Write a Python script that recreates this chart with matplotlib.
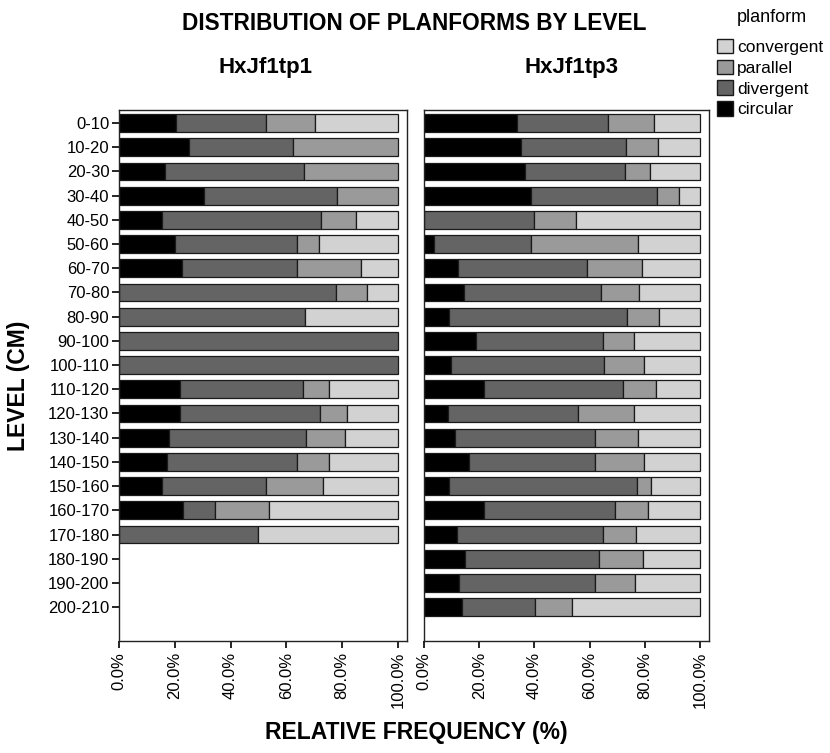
import matplotlib
matplotlib.use('Agg')
import matplotlib.pyplot as plt
from matplotlib.patches import Patch
import numpy as np

plt.rcParams['font.family'] = ['Liberation Sans', 'DejaVu Sans']

levels = ['0-10', '10-20', '20-30', '30-40', '40-50', '50-60', '60-70', '70-80',
          '80-90', '90-100', '100-110', '110-120', '120-130', '130-140', '140-150',
          '150-160', '160-170', '170-180', '180-190', '190-200', '200-210']
categories = ['circular', 'divergent', 'parallel', 'convergent']
colors = {'circular': '#000000', 'divergent': '#646464',
          'parallel': '#9a9a9a', 'convergent': '#d2d2d2'}

# percentages per level (empty levels have no data)
tp1_circular = [20.4, 25.0, 16.6, 30.6, 15.3, 20.1, 22.7, 0, 0, 0, 0,
                22.0, 22.0, 18.1, 17.1, 15.6, 23.1, 0, 0, 0, 0]
tp1_divergent = [32.5, 37.3, 49.9, 47.5, 57.2, 43.6, 41.2, 77.8, 66.7, 100, 100,
                 43.9, 50.1, 49.0, 46.6, 37.3, 11.3, 50.0, 0, 0, 0]
tp1_parallel = [17.4, 37.7, 33.5, 21.9, 12.5, 8.2, 22.9, 11.1, 0, 0, 0,
                9.5, 9.6, 14.1, 11.5, 20.4, 19.3, 0, 0, 0, 0]
tp1_convergent = [29.7, 0, 0, 0, 15.0, 28.1, 13.2, 11.1, 33.3, 0, 0,
                  24.6, 18.3, 18.8, 24.8, 26.7, 46.3, 50.0, 0, 0, 0]

tp3_circular = [33.7, 35.1, 36.7, 38.7, 0, 3.5, 12.5, 14.4, 9.1, 18.8, 9.9,
                21.6, 8.7, 11.3, 16.3, 9.1, 21.9, 11.9, 14.8, 12.6, 13.7]
tp3_divergent = [32.9, 38.0, 36.0, 45.9, 39.9, 35.2, 46.6, 49.8, 64.5, 46.0, 55.5,
                 50.5, 47.2, 50.5, 45.6, 68.1, 47.5, 52.9, 48.8, 49.2, 26.4]
tp3_parallel = [16.8, 11.6, 9.3, 7.8, 15.3, 38.8, 19.9, 13.6, 11.4, 11.2, 14.4,
                11.9, 20.3, 15.7, 17.7, 5.1, 11.7, 12.0, 15.7, 14.5, 13.4]
tp3_convergent = [16.6, 15.3, 18.0, 7.6, 44.8, 22.5, 21.0, 22.2, 15.0, 24.0, 20.2,
                  16.0, 23.8, 22.5, 20.4, 17.7, 18.9, 23.2, 20.7, 23.7, 46.5]

panels = [
    ('HxJf1tp1', [tp1_circular, tp1_divergent, tp1_parallel, tp1_convergent]),
    ('HxJf1tp3', [tp3_circular, tp3_divergent, tp3_parallel, tp3_convergent]),
]

W, H = 830, 753
fig = plt.figure(figsize=(W / 100, H / 100), dpi=100)

def px_axes(x0, x1, y0, y1):
    return fig.add_axes([x0 / W, 1 - y1 / H, (x1 - x0) / W, (y1 - y0) / H])

boxes = [(119, 407), (424, 709)]
title_x = [265, 571]
y = np.arange(len(levels))

for i, ((name, series), (x0, x1)) in enumerate(zip(panels, boxes)):
    ax = px_axes(x0, x1, 110, 641)
    left = np.zeros(len(levels))
    for cat, vals in zip(categories, series):
        vals = np.array(vals, dtype=float)
        m = vals > 0
        ax.barh(y[m], vals[m], left=left[m], height=0.74, color=colors[cat],
                edgecolor='#1a1a1a', linewidth=0.9)
        left += vals
    ax.set_xlim(0, 103.3)
    ax.set_ylim(21.4, -0.54)
    ax.set_xticks([0, 20, 40, 60, 80, 100])
    ax.set_xticklabels(['%.1f%%' % v for v in [0, 20, 40, 60, 80, 100]],
                       rotation=90, fontsize=12)
    ax.tick_params(axis='x', length=5, width=1.2, direction='out', pad=3)
    if i == 0:
        ax.set_yticks(y)
        ax.set_yticklabels(levels, fontsize=12)
        ax.tick_params(axis='y', length=5, width=1.2, direction='out', pad=2)
    else:
        ax.set_yticks([])
    for s in ax.spines.values():
        s.set_linewidth(1.0)
        s.set_color('#222222')
    fig.text(title_x[i] / W, 1 - 67 / H, name, ha='center', va='center',
             fontsize=16, fontweight='bold')

fig.text(414 / W, 1 - 23 / H, 'DISTRIBUTION OF PLANFORMS BY LEVEL', ha='center',
         va='center', fontsize=16.3, fontweight='bold')
fig.text(416 / W, 1 - 733 / H, 'RELATIVE FREQUENCY (%)', ha='center',
         va='center', fontsize=16.5, fontweight='bold')
fig.text(19 / W, 1 - 386 / H, 'LEVEL (CM)', ha='center', va='center',
         rotation=90, fontsize=16.5, fontweight='bold')

handles = [Patch(facecolor=colors[c], edgecolor='#1a1a1a', label=c)
           for c in ['convergent', 'parallel', 'divergent', 'circular']]
fig.text(772 / W, 1 - 17 / H, 'planform', ha='center', va='center', fontsize=13)
fig.legend(handles=handles, loc='upper left', bbox_to_anchor=(717 / W, 1 - 39 / H),
           frameon=False, fontsize=12.5, handlelength=0.9, handleheight=0.9,
           handletextpad=0.25, labelspacing=0.26, borderaxespad=0, borderpad=0)

fig.savefig('out.png', dpi=100)
